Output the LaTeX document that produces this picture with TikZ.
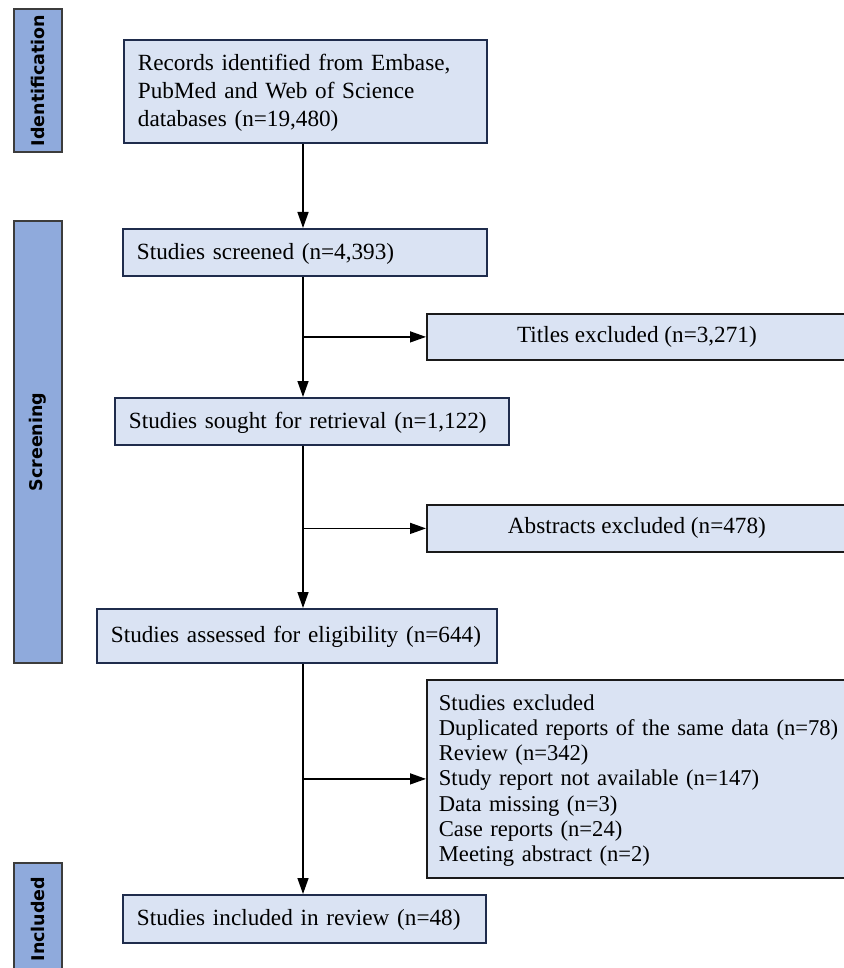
\documentclass[tikz,border=0pt]{standalone}
\usepackage{fontspec}
\setmainfont{Liberation Serif}
\newfontfamily\barfont{DejaVu Sans}
\usetikzlibrary{arrows.meta}
\definecolor{barblue}{HTML}{8FAADC}
\definecolor{barline}{HTML}{3C3C3C}
\definecolor{boxfill}{HTML}{DAE3F3}
\definecolor{boxline}{HTML}{1F2C4C}
\definecolor{exline}{HTML}{1A1A1A}
\begin{document}
\begin{tikzpicture}[x=1pt,y=-1pt,
  phase/.style={draw=barline, fill=barblue, line width=1.5pt, inner sep=0pt, rotate=90,
    font=\barfont\bfseries\fontsize{17.5}{20}\selectfont},
  mainbox/.style={draw=boxline, fill=boxfill, line width=1.8pt, anchor=north west,
    inner xsep=14pt, inner ysep=0pt, align=left, font=\fontsize{23.2}{28}\selectfont},
  exbox/.style={draw=exline, fill=boxfill, line width=1.8pt, anchor=north west,
    inner xsep=13pt, inner ysep=0pt, minimum width=420pt, font=\fontsize{23.2}{25.2}\selectfont},
  arr/.style={draw=black, line width=1.4pt, -{Triangle[length=16pt,width=11pt]}}
]
\useasboundingbox (0,0) rectangle (843,968);
\fill[white] (0,0) rectangle (843,968);

% phase bars
\node[phase, minimum width=143pt, minimum height=48pt] (p1) at (38,80.5) {Identification};
\node[phase, minimum width=442pt, minimum height=48pt] (p2) at (38,442) {Screening};
\node[phase, minimum width=112pt, minimum height=48pt] (p3) at (38,919) {Included};

% main flow boxes
\node[mainbox, minimum width=363pt, minimum height=103pt, text width=335pt] (b1) at (123,39)
  {\rule{0pt}{19pt}Records identified from Embase,\\PubMed and Web of Science\\databases (n=19,480)};
\node[mainbox, minimum width=364pt, minimum height=47pt, text width=336pt] (b2) at (122,228)
  {\rule{0pt}{19pt}Studies screened (n=4,393)};
\node[mainbox, minimum width=394pt, minimum height=47pt, text width=366pt] (b3) at (114,397)
  {\rule{0pt}{19pt}Studies sought for retrieval (n=1,122)};
\node[mainbox, minimum width=400pt, minimum height=54pt, text width=372pt] (b4) at (96,608)
  {\rule{0pt}{19pt}\mbox{Studies assessed for eligibility (n=644)}};
\node[mainbox, minimum width=363pt, minimum height=48pt, text width=335pt] (b5) at (122,894)
  {\rule{0pt}{19pt}Studies included in review (n=48)};

% exclusion boxes
\node[exbox, minimum height=46pt] (e1) at (426,313) {Titles excluded (n=3,271)};
\node[exbox, minimum height=47pt] (e2) at (426,504) {Abstracts excluded (n=478)};
\node[exbox, minimum height=198pt, text width=420pt, align=left, inner xsep=12pt,
      font=\fontsize{22.6}{25.2}\selectfont] (e3) at (426,679)
  {\rule{0pt}{19pt}Studies excluded\\
   Duplicated reports of the same data (n=78)\\
   Review (n=342)\\
   Study report not available (n=147)\\
   Data missing (n=3)\\
   Case reports (n=24)\\
   Meeting abstract (n=2)};

% connectors
\coordinate (tx) at (303,0);
\draw[arr] (b1.south -| tx) -- (b2.north -| tx);
\draw[arr] (b2.south -| tx) -- (b3.north -| tx);
\draw[arr] (b3.south -| tx) -- (b4.north -| tx);
\draw[arr] (b4.south -| tx) -- (b5.north -| tx);
\draw[arr] (e1.west -| tx) -- (e1.west);
\draw[arr] (e2.west -| tx) -- (e2.west);
\draw[arr] (e3.west -| tx) -- (e3.west);
\end{tikzpicture}
\end{document}
